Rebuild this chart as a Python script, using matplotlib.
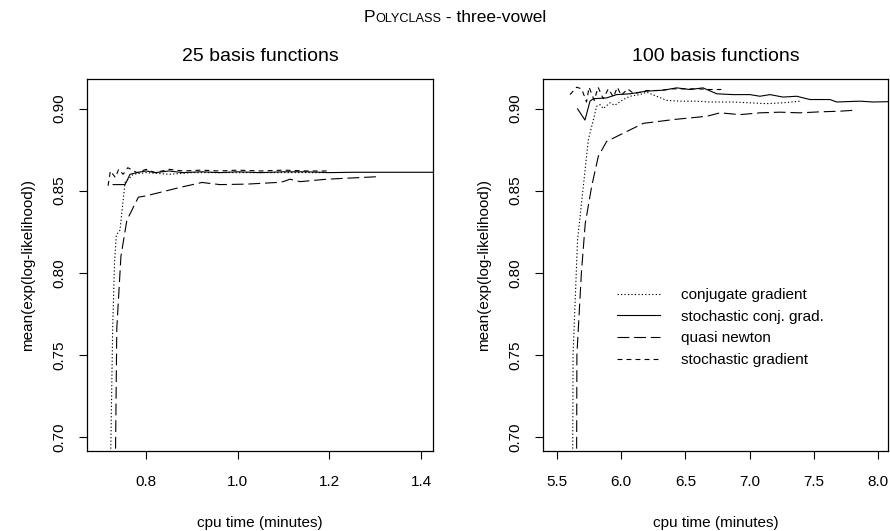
import matplotlib
matplotlib.use("Agg")
import matplotlib.pyplot as plt

plt.rcParams["font.family"] = ["Liberation Sans", "DejaVu Sans"]
plt.rcParams["lines.scale_dashes"] = False

# ---- 25 basis functions ----
cg25_x = [0.715, 0.727, 0.731, 0.735, 0.743, 0.754, 0.772, 0.80, 0.85, 0.90, 0.95, 1.00, 1.05, 1.10, 1.15, 1.195]
cg25_y = [0.55, 0.766, 0.806, 0.823, 0.826, 0.855, 0.860, 0.861, 0.860, 0.861, 0.861, 0.861, 0.861, 0.861, 0.861, 0.861]

scg25_x = [0.728, 0.754, 0.765, 0.78, 0.80, 0.82, 0.85, 0.88, 0.92, 0.96, 1.00, 1.05, 1.10, 1.15, 1.20, 1.25, 1.30, 1.35, 1.43]
scg25_y = [0.8537, 0.8537, 0.860, 0.861, 0.862, 0.861, 0.862, 0.861, 0.8615, 0.861, 0.8615, 0.861, 0.8615, 0.8615, 0.861, 0.8612, 0.8612, 0.8612, 0.8612]

qn25_x = [0.728, 0.736, 0.740, 0.745, 0.758, 0.783, 0.802, 0.831, 0.874, 0.922, 0.961, 1.02, 1.086, 1.099, 1.114, 1.136, 1.195, 1.304]
qn25_y = [0.55, 0.766, 0.7855, 0.810, 0.832, 0.846, 0.847, 0.849, 0.852, 0.855, 0.8537, 0.854, 0.855, 0.8555, 0.857, 0.8555, 0.857, 0.8585]

sg25_x = [0.717, 0.722, 0.733, 0.740, 0.750, 0.760, 0.780, 0.800, 0.820, 0.850, 0.880, 0.920, 0.960, 1.00, 1.05, 1.10, 1.15, 1.20]
sg25_y = [0.853, 0.862, 0.858, 0.863, 0.860, 0.864, 0.861, 0.863, 0.861, 0.863, 0.862, 0.8625, 0.862, 0.8625, 0.862, 0.8625, 0.862, 0.862]

# ---- 100 basis functions ----
cg100_x = [5.617, 5.625, 5.66, 5.705, 5.744, 5.77, 5.809, 5.835, 5.86, 5.913, 5.95, 6.016, 6.069, 6.146, 6.198, 6.276, 6.354,
           6.458, 6.588, 6.69, 6.744, 6.87, 7.0, 7.133, 7.26, 7.39]
cg100_y = [0.55, 0.75, 0.82, 0.8526, 0.881, 0.889, 0.9014, 0.9024, 0.900, 0.9035, 0.902, 0.9055, 0.9075, 0.9085, 0.910, 0.9075, 0.905,
           0.9045, 0.9045, 0.904, 0.904, 0.904, 0.9035, 0.903, 0.9035, 0.9045]

scg100_x = [5.660, 5.718, 5.757, 5.783, 5.887, 5.965, 6.069, 6.198, 6.328, 6.432, 6.536, 6.637, 6.744, 6.87, 7.003, 7.08, 7.159,
            7.26, 7.367, 7.47, 7.626, 7.678, 7.86, 7.96, 8.09]
scg100_y = [0.8998, 0.893, 0.9045, 0.906, 0.9065, 0.9085, 0.909, 0.9106, 0.9112, 0.9126, 0.9116, 0.9126, 0.909, 0.9085, 0.9085,
            0.9075, 0.9085, 0.907, 0.9075, 0.9055, 0.9055, 0.904, 0.9045, 0.904, 0.9042]

qn100_x = [5.648, 5.655, 5.69, 5.72, 5.77, 5.822, 5.887, 5.965, 6.069, 6.172, 6.276, 6.406, 6.536, 6.666, 6.77, 6.925, 7.08,
           7.237, 7.39, 7.548, 7.704, 7.82]
qn100_y = [0.55, 0.75, 0.80, 0.83, 0.8526, 0.871, 0.880, 0.883, 0.887, 0.891, 0.892, 0.8933, 0.8943, 0.8953, 0.8974, 0.8963,
           0.8974, 0.8978, 0.8974, 0.898, 0.8984, 0.899]

sg100_x = [5.601, 5.653, 5.692, 5.73, 5.75, 5.79, 5.82, 5.86, 5.90, 5.94, 5.97, 6.00, 6.05, 6.10, 6.20, 6.30, 6.40, 6.50,
           6.60, 6.69, 6.78]
sg100_y = [0.9085, 0.913, 0.912, 0.904, 0.913, 0.905, 0.913, 0.906, 0.912, 0.907, 0.913, 0.908, 0.912, 0.909, 0.911, 0.911,
           0.912, 0.912, 0.912, 0.9116, 0.9116]

labels = ["conjugate gradient", "stochastic conj. grad.", "quasi newton", "stochastic gradient"]
styles = [
    dict(linestyle=(0, (0.9, 1.6))),
    dict(linestyle="-"),
    dict(linestyle=(0, (8.5, 3.5))),
    dict(linestyle=(0, (3.5, 3.0))),
]

left_xticks = [0.8, 1.0, 1.2, 1.4]
right_xticks = [5.5, 6.0, 6.5, 7.0, 7.5, 8.0]
yticks = [0.70, 0.75, 0.80, 0.85, 0.90]

W, H = 890, 531
fig = plt.figure(figsize=(W / 100, H / 100), dpi=100)

def px_box(x0, x1, y0, y1):
    return [x0 / W, 1 - y1 / H, (x1 - x0) / W, (y1 - y0) / H]

axL = fig.add_axes(px_box(87, 433, 79, 451))
axR = fig.add_axes(px_box(543, 888, 79, 451))

panels = [
    (axL, [(cg25_x, cg25_y), (scg25_x, scg25_y), (qn25_x, qn25_y), (sg25_x, sg25_y)],
     (0.671, 1.426), left_xticks, "25 basis functions"),
    (axR, [(cg100_x, cg100_y), (scg100_x, scg100_y), (qn100_x, qn100_y), (sg100_x, sg100_y)],
     (5.391, 8.078), right_xticks, "100 basis functions"),
]

for ax, series, xlim, xt, title in panels:
    for (xs, ys), st, lab in zip(series, styles, labels):
        ax.plot(xs, ys, color="black", lw=0.8, label=lab, **st)
    ax.set_xlim(*xlim)
    ax.set_ylim(0.6915, 0.918)
    ax.set_xticks(xt)
    ax.set_xticklabels(["{:.1f}".format(v) for v in xt])
    ax.set_yticks(yticks)
    ax.set_yticklabels(["{:.2f}".format(v) for v in yticks], rotation=90, va="center")
    ax.tick_params(axis="both", direction="out", length=6, width=0.8, labelsize=11, color="black")
    ax.tick_params(axis="x", pad=11)
    ax.tick_params(axis="y", pad=9)
    for s in ax.spines.values():
        s.set_linewidth(0.9)
    ax.set_xlabel("cpu time (minutes)", fontsize=11, labelpad=20)
    ax.set_ylabel("mean(exp(log-likelihood))", fontsize=11, labelpad=12)
    ax.set_title(title, fontsize=14, pad=13)

leg = axR.legend(loc="center left", bbox_to_anchor=(0.2145, 0.332), frameon=False, fontsize=11,
                 handlelength=2.8, handletextpad=1.4, labelspacing=0.5, borderpad=0, borderaxespad=0)
for line in leg.get_lines():
    line.set_linewidth(0.8)

# small-caps style suptitle built from pieces
fig.canvas.draw()
renderer = fig.canvas.get_renderer()
pieces = [("P", 12.5), ("OLYCLASS", 9.2), (" - three-vowel", 12.5)]
texts = [fig.text(0, 1 - 22 / H, s, fontsize=fs, ha="left", va="baseline") for s, fs in pieces]
widths = [t.get_window_extent(renderer).width for t in texts]
total = sum(widths)
x = 455 - total / 2
for t, w in zip(texts, widths):
    t.set_x(x / W)
    x += w

fig.savefig("out.png", dpi=100)
